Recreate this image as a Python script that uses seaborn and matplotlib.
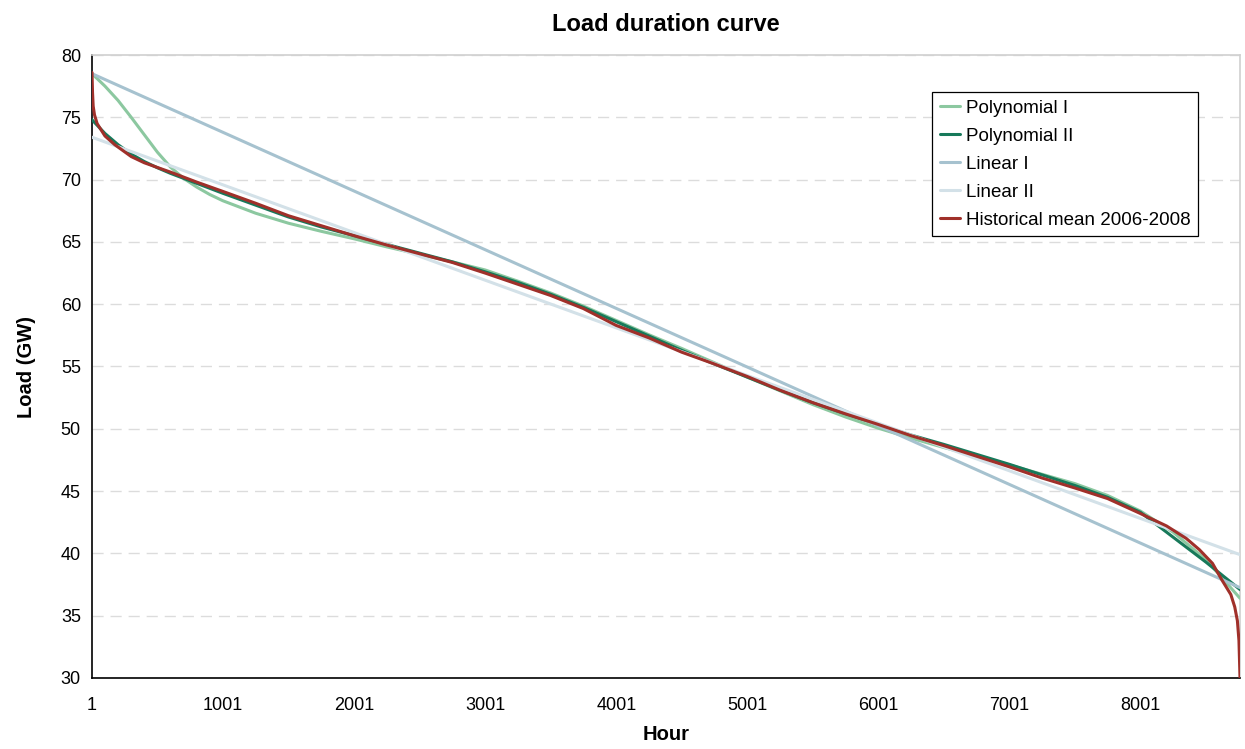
import numpy as np
import pandas as pd
import matplotlib
matplotlib.use("Agg")
import matplotlib.pyplot as plt
import seaborn as sns
from matplotlib.ticker import FixedLocator

# ---------------- data ----------------
hours = [1, 100, 200, 300, 400, 500, 600, 700, 800, 900, 1000, 1250, 1500, 1750,
         2000, 2250, 2500, 2750, 3000, 3250, 3500, 3750, 4000, 4250, 4500, 4750,
         5000, 5250, 5500, 5750, 6000, 6250, 6500, 6750, 7000, 7250, 7500, 7750,
         8000, 8250, 8500, 8760]

poly1 = [78.5, 77.5, 76.35, 75.0, 73.6, 72.2, 71.0, 70.1, 69.4, 68.8, 68.3,
         67.3, 66.5, 65.85, 65.25, 64.6, 64.0, 63.4, 62.75, 61.85, 60.9, 59.85,
         58.7, 57.55, 56.45, 55.3, 54.15, 53.05, 51.95, 50.95, 50.05, 49.25, 48.5,
         47.8, 47.1, 46.35, 45.6, 44.65, 43.4, 41.7, 39.5, 36.4]

poly2 = [74.8, 73.7, 72.8, 72.05, 71.45, 70.95, 70.5, 70.1, 69.7, 69.3, 68.9,
         67.95, 67.0, 66.2, 65.5, 64.8, 64.1, 63.4, 62.6, 61.75, 60.8, 59.75,
         58.6, 57.45, 56.3, 55.2, 54.15, 53.1, 52.1, 51.2, 50.35, 49.5, 48.75,
         47.95, 47.15, 46.3, 45.45, 44.5, 43.3, 41.3, 39.3, 37.1]

hist_hours = [1, 5, 10, 20, 40, 70, 100, 175, 300, 400, 600, 800, 1000, 1250, 1500,
              1750, 2000, 2250, 2500, 2750, 3000, 3250, 3500, 3750, 4000, 4250,
              4500, 4750, 5000, 5250, 5500, 5750, 6000, 6250, 6500, 6750, 7000,
              7250, 7500, 7750, 8000, 8200, 8350, 8450, 8550, 8620, 8690, 8720,
              8740, 8752, 8760]
hist = [78.6, 77.0, 75.9, 75.2, 74.5, 74.0, 73.5, 72.8, 71.85, 71.35, 70.6, 69.8,
        69.05, 68.1, 67.1, 66.3, 65.5, 64.75, 64.05, 63.35, 62.5, 61.6, 60.7, 59.65,
        58.3, 57.3, 56.15, 55.2, 54.2, 53.1, 52.1, 51.2, 50.35, 49.45, 48.65, 47.8,
        46.95, 46.05, 45.25, 44.4, 43.2, 42.2, 41.2, 40.3, 39.2, 37.9, 36.7, 35.7,
        34.6, 33.0, 30.0]

linear_hours = [1, 8760]
linear1 = [78.5, 37.25]
linear2 = [73.4, 39.9]

series_names = ["Polynomial I", "Polynomial II", "Linear I", "Linear II",
                "Historical mean 2006-2008"]
colors = ["#8cc8a0", "#17795a", "#a6c2cf", "#d3e1e8", "#a0302a"]

# ---------------- build long table ----------------
frames = [
    pd.DataFrame({"Hour": hours, "Load": poly1, "Series": series_names[0]}),
    pd.DataFrame({"Hour": hours, "Load": poly2, "Series": series_names[1]}),
    pd.DataFrame({"Hour": linear_hours, "Load": linear1, "Series": series_names[2]}),
    pd.DataFrame({"Hour": linear_hours, "Load": linear2, "Series": series_names[3]}),
    pd.DataFrame({"Hour": hist_hours, "Load": hist, "Series": series_names[4]}),
]
df = pd.concat(frames, ignore_index=True)

# ---------------- style ----------------
sns.set_style("white")
plt.rcParams["font.family"] = ["Liberation Sans", "DejaVu Sans"]
plt.rcParams["text.color"] = "black"
plt.rcParams["axes.labelcolor"] = "black"

fig = plt.figure(figsize=(12.45, 7.49), dpi=100)
ax = fig.add_axes([92 / 1245, 1 - 678 / 749, (1240 - 92) / 1245, (678 - 55) / 749])

draw_order = [3, 2, 0, 1, 4]
for i in draw_order:
    name = series_names[i]
    sns.lineplot(data=df[df["Series"] == name], x="Hour", y="Load", ax=ax,
                 color=colors[i], linewidth=2.2, label=name, sort=False,
                 estimator=None, zorder=3 + i)

ax.set_xlim(1, 8760)
ax.set_ylim(30, 80)
ax.set_yticks(np.arange(30, 81, 5))

xt = list(range(1, 8760, 200))
ax.xaxis.set_major_locator(FixedLocator(xt))
ax.set_xticklabels([str(t) if (t - 1) % 1000 == 0 else "" for t in xt])

ax.tick_params(axis="both", direction="out", length=5, width=1, color="black",
               labelsize=13, labelcolor="black", pad=3)
ax.tick_params(axis="x", pad=8.5)

ax.yaxis.grid(True, color="#dcdcdc", linestyle=(0, (8, 5)), linewidth=1)
ax.xaxis.grid(False)
ax.set_axisbelow(True)

for side in ["left", "bottom"]:
    ax.spines[side].set_color("black")
    ax.spines[side].set_linewidth(1.2)
for side in ["top", "right"]:
    ax.spines[side].set_color("#d0d0d0")
    ax.spines[side].set_linewidth(1.2)

ax.set_xlabel("Hour", fontsize=14.5, fontweight="bold", labelpad=8, color="black")
ax.set_ylabel("Load (GW)", fontsize=14.5, fontweight="bold", labelpad=18, color="black")
ax.set_title("Load duration curve", fontsize=17, fontweight="bold", pad=17.5, color="black")

handles, labels = ax.get_legend_handles_labels()
order = [labels.index(n) for n in series_names]
leg = ax.legend([handles[k] for k in order], [labels[k] for k in order],
                loc="upper left", bbox_to_anchor=((932 - 92) / 1148, 1 - (92 - 55) / 623),
                fontsize=13.5, frameon=True, fancybox=False, framealpha=1,
                edgecolor="black", handlelength=1.1, handletextpad=0.3,
                borderpad=0.4, labelspacing=0.58, borderaxespad=0)
leg.get_frame().set_linewidth(0.9)
for t in leg.get_texts():
    t.set_color("black")

fig.savefig("out.png", dpi=100)
